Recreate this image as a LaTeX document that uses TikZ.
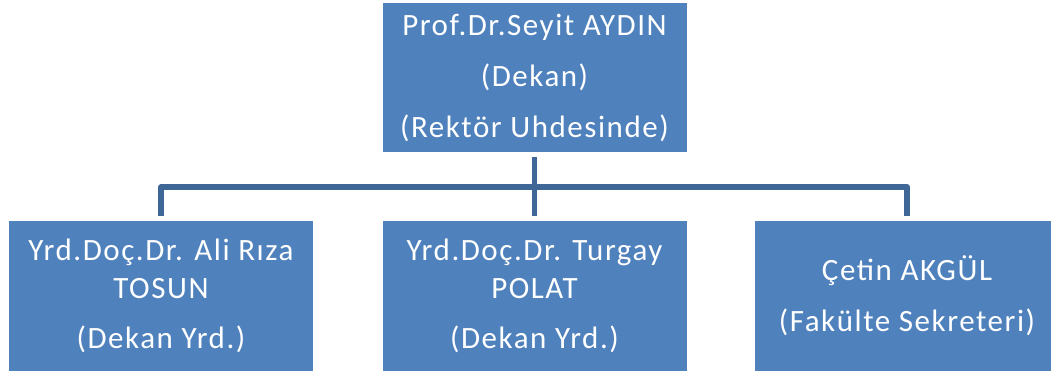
\documentclass[tikz,border=0pt]{standalone}
\usepackage{fontspec}
\setmainfont{Carlito}[LetterSpace=5]
\definecolor{boxblue}{RGB}{79,129,189}
\definecolor{linkblue}{RGB}{62,102,150}

\begin{document}
\begin{tikzpicture}[x=1pt, y=1pt,
        person/.style={rectangle, fill=boxblue, text=white, inner sep=0pt,
            minimum width=304pt, minimum height=149pt, align=center,
            font=\fontsize{31}{38}\selectfont},
        link/.style={draw=linkblue, line width=5.5pt, line join=round}]
    \clip (0, 0) rectangle (1051, 372);
    \fill[white] (0, 0) rectangle (1051, 372);
    \node[person] (dean) at (534.5, 294.5)
        {Prof.Dr.Seyit AYDIN\\[13pt](Dekan)\\[13pt](Rektör Uhdesinde)};
    \node[person] (vicea) at (161, 76)
        {Yrd.Doç.Dr. Ali Rıza\\TOSUN\\[12pt](Dekan Yrd.)};
    \node[person] (viceb) at (534.5, 76)
        {Yrd.Doç.Dr. Turgay\\POLAT\\[12pt](Dekan Yrd.)};
    \node[person] (secretary) at (907, 76)
        {Çetin AKGÜL\\[13pt](Fakülte Sekreteri)};
    \coordinate (bus) at (0, 185);
    % lines between the boxes
    \draw[link] ([yshift=-5pt]dean.south) -- ([yshift=5pt]viceb.north);
    \draw[link] ([yshift=5pt]vicea.north) -- (vicea.north |- bus)
        -- (secretary.north |- bus) -- ([yshift=5pt]secretary.north);
\end{tikzpicture}
\end{document}
